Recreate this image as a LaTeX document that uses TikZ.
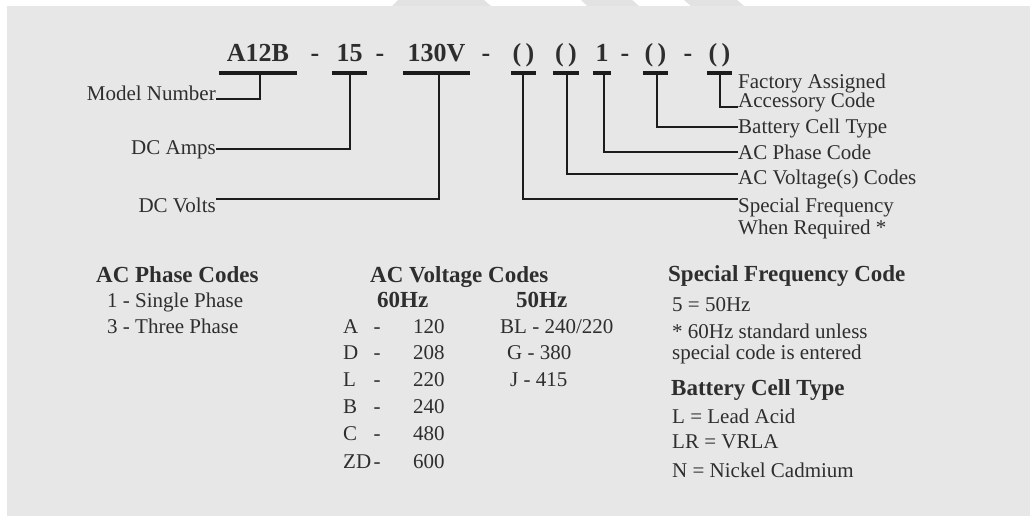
\documentclass[tikz,border=0pt]{standalone}
\usepackage{fontspec}
\setmainfont{Liberation Serif}
\definecolor{panel}{HTML}{E7E7E7}
\definecolor{wmark}{HTML}{E2E2E2}
\definecolor{txt}{HTML}{2E2E2E}
\definecolor{ln}{HTML}{1C1C1C}
\newcommand\fsreg{\fontsize{21}{24}\selectfont}
\newcommand\fshd{\fontsize{23}{26}\selectfont\bfseries}
\newcommand\fstop{\fontsize{26}{30}\selectfont\bfseries}
\begin{document}
\begin{tikzpicture}[x=1pt,y=-1pt,
  tok/.style={font=\fstop, text=txt, anchor=base, inner xsep=0pt, inner ysep=11pt, text depth=0pt, text height=17pt},
  lbl/.style={font=\fsreg, text=txt, inner sep=0pt},
  hd/.style={font=\fshd, text=txt, inner sep=0pt, anchor=base west},
  tx/.style={font=\fsreg, text=txt, inner sep=0pt, anchor=base west},
  uline/.style={draw=ln, line width=4pt},
  conn/.style={draw=ln, line width=2pt},
]
\useasboundingbox (0,0) rectangle (1030,516);
\fill[white] (0,0) rectangle (1030,516);
\fill[wmark] (392,6) -- (398,0) -- (484,0) -- (491,6) -- cycle;
\fill[wmark] (587,6) -- (581,0) -- (632,0) -- (639,6) -- cycle;
\fill[wmark] (691,6) -- (684,0) -- (737,0) -- (744,6) -- cycle;
\fill[panel] (7,6) rectangle (1030,516);

% model code tokens
\node[tok, minimum width=78pt] (tmodel) at (258,62) {A12B};
\node[tok] (dash1) at (315,62) {-};
\node[tok, minimum width=35pt] (tamps) at (349.5,62) {15};
\node[tok] (dash2) at (380,62) {-};
\node[tok, minimum width=67pt] (tvolts) at (436.5,62) {130V};
\node[tok] (dash3) at (486,62) {-};
\node[tok, minimum width=25pt] (tfreq) at (523.5,62) {(\,)};
\node[tok, minimum width=26pt] (tvac) at (566,62) {(\,)};
\node[tok, minimum width=18pt] (tphase) at (602,62) {1};
\node[tok] (dash4) at (625,62) {-};
\node[tok, minimum width=25pt] (tcell) at (655.5,62) {(\,)};
\node[tok] (dash5) at (688,62) {-};
\node[tok, minimum width=25pt] (tacc) at (719.5,62) {(\,)};
\foreach \n in {tmodel,tamps,tvolts,tfreq,tvac,tphase,tcell,tacc}
  \draw[uline] (\n.south west) -- (\n.south east);

% left labels
\node[lbl, anchor=base east] (lmodel) at (216,101) {Model Number};
\node[lbl, anchor=base east] (lamps) at (216,154) {DC Amps};
\node[lbl, anchor=base east] (lvolts) at (216,212) {DC Volts};
\draw[conn] ([xshift=2pt]tmodel.south) |- ([yshift=2pt]lmodel.base east);
\draw[conn] ([xshift=0.5pt]tamps.south) |- ([yshift=5pt]lamps.base east);
\draw[conn] ([xshift=2.5pt]tvolts.south) |- ([yshift=13pt]lvolts.base east);

% right labels
\node[lbl, anchor=base west] (lacc1) at (738,89) {Factory Assigned};
\node[lbl, anchor=base west] (lacc) at (738,108) {Accessory Code};
\node[lbl, anchor=base west] (lcell) at (738,133) {Battery Cell Type};
\node[lbl, anchor=base west] (lphase) at (738,159) {AC Phase Code};
\node[lbl, anchor=base west] (lvac) at (738,184) {AC Voltage(s) Codes};
\node[lbl, anchor=base west] (lfreq) at (738,212) {Special Frequency};
\node[lbl, anchor=base west] (lfreq2) at (738,234) {When Required *};
\draw[conn] ([xshift=0.5pt]tacc.south) |- ([yshift=1pt]lacc.base west);
\draw[conn] ([xshift=1.5pt]tcell.south) |- ([yshift=6pt]lcell.base west);
\draw[conn] ([xshift=2pt]tphase.south) |- ([yshift=7pt]lphase.base west);
\draw[conn] ([xshift=1pt]tvac.south) |- ([yshift=10pt]lvac.base west);
\draw[conn] ([xshift=-0.5pt]tfreq.south) |- ([yshift=13pt]lfreq.base west);

% AC phase codes
\node[hd] (hphase) at (96,282) {AC Phase Codes};
\node[tx] (ph1) at (107,307) {1 - Single Phase};
\node[tx] (ph3) at (107,333) {3 - Three Phase};

% AC voltage codes
\node[hd] (hvolt) at (370,282) {AC Voltage Codes};
\node[hd] (h60) at (377,307) {60Hz};
\node[hd] (h50) at (516,307) {50Hz};
\foreach \c/\v/\y [count=\i] in {A/120/333, D/208/359, L/220/386, B/240/413, C/480/440, ZD/600/468}{
  \node[tx] (vc\i) at (343,\y) {\c};
  \node[tx, anchor=base] (vd\i) at (377,\y) {-};
  \node[tx] (vv\i) at (413,\y) {\v};
}
\node[tx] (f1) at (500,333) {BL - 240/220};
\node[tx] (f2) at (507,359) {G - 380};
\node[tx] (f3) at (510,386) {J - 415};

% special frequency code
\node[hd] (hsf) at (668,281) {Special Frequency Code};
\node[tx] (sf1) at (672,311) {5 = 50Hz};
\node[tx] (sf2) at (672,338) {* 60Hz standard unless};
\node[tx] (sf3) at (672,359) {special code is entered};

% battery cell type
\node[hd] (hbc) at (671,395) {Battery Cell Type};
\node[tx] (bc1) at (672,423) {L = Lead Acid};
\node[tx] (bc2) at (672,448) {LR = VRLA};
\node[tx] (bc3) at (672,477) {N = Nickel Cadmium};
\end{tikzpicture}
\end{document}
